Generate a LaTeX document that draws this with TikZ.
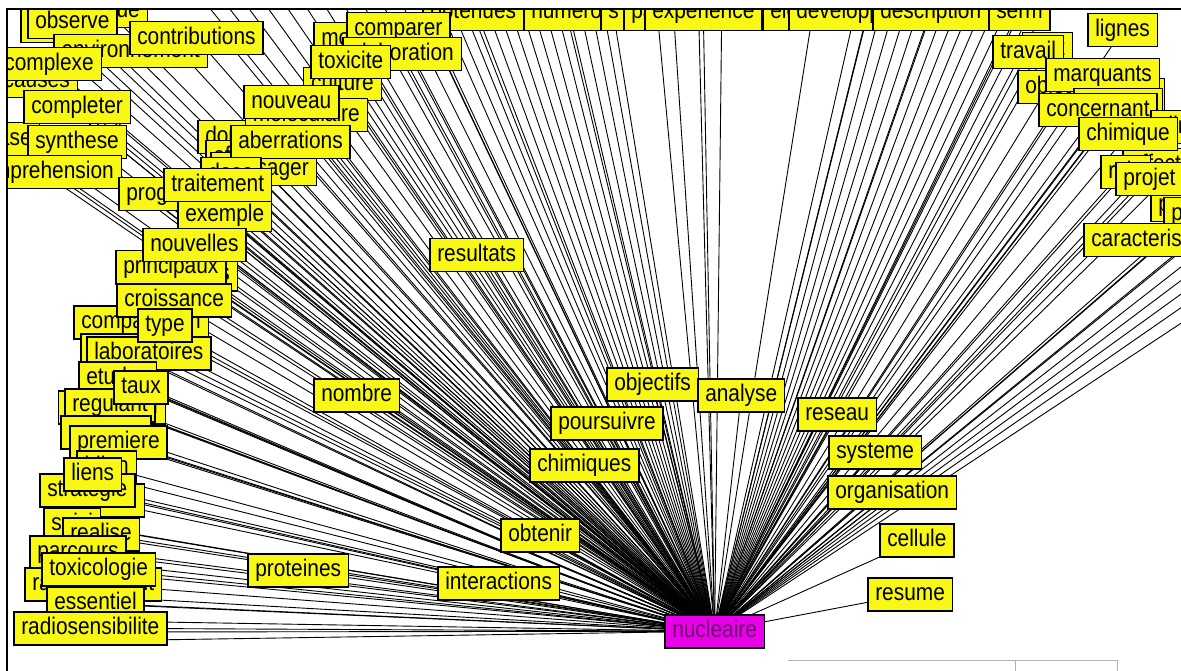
\documentclass[tikz,border=0pt]{standalone}
\usepackage{fontspec}
\setmainfont{Liberation Sans}
\newfontfamily\wordfont[FakeStretch=0.87]{Liberation Sans}
\usetikzlibrary{backgrounds}
\definecolor{boxyellow}{RGB}{248,248,20}
\definecolor{nucmag}{RGB}{232,0,232}
\definecolor{nuctext}{RGB}{112,0,112}
\tikzset{
  word/.style={draw=black, line width=1.5pt, fill=boxyellow, text=black,
    font=\wordfont\fontsize{24}{28}\selectfont, minimum height=33pt,
    inner xsep=7.5pt, inner ysep=0pt, text height=17pt, text depth=5pt},
  nw/.style={word, anchor=north west},
  ne/.style={word, anchor=north east},
  topword/.style={word, anchor=north west, text depth=9pt},
  conn/.style={draw=black, line width=0.9pt},
}
\begin{document}
\begin{tikzpicture}[x=1pt, y=-1pt]
\useasboundingbox (0,0) rectangle (1181,671);
\begin{scope}
\clip (8,10) rectangle (1181,671);
% row of words along the top edge
\node[topword] (w-obtenues) at (422,-3) {obtenues};
\node[topword] (w-numero) at (523,-3) {numero};
\node[topword] (w-s) at (600,-3) {s};
\node[topword] (w-partie) at (623,-3) {partie};
\node[topword] (w-experience) at (644,-3) {experience};
\node[topword] (w-elements) at (762,-3) {elements};
\node[topword] (w-developpement) at (788,-3) {developpement};
\node[topword] (w-description) at (872,-3) {description};
\node[topword] (w-serm) at (988,-3) {serm};
% right column
\node[ne] (w-trait) at (1073,32) {trait};
\node[nw] (w-travail) at (992,35) {travail};
\node[nw] (w-objet) at (1017,70) {objet};
\node[ne] (w-modeles) at (1165,78) {modeles};
\node[nw] (w-marquants) at (1045,58) {marquants};
\node[ne] (w-concept) at (1163,88) {concept};
\node[nw] (w-concernant) at (1038,93) {concernant};
\node[nw] (w-clinique) at (1150,110) {clinique};
\node[nw] (w-effectuees) at (1122,148) {effectuees};
\node[nw] (w-chimique) at (1078,117) {chimique};
\node[nw] (w-role) at (1100,155) {role};
\node[nw] (w-proprietes) at (1150,188) {proprietes};
\node[nw] (w-parametres) at (1163,197) {parametres};
\node[nw] (w-projet) at (1115,162) {projet};
\node[nw] (w-caracterisation) at (1083,223) {caracterisation};
\node[nw] (w-lignes) at (1087,13) {lignes};
% upper left cluster
\node[nw] (w-sens) at (20,9) {sens};
\node[ne] (w-unique) at (148,-6) {unique};
\node[nw] (w-observe) at (27,5) {observe};
\node[ne] (w-environnement) at (208,34) {environnement};
\node[nw] (w-contributions) at (129,21) {contributions};
\node[ne] (w-causes) at (78,64) {causes};
\node[ne] (w-complexe) at (102,47) {complexe};
\node[ne] (w-base) at (40,122) {base};
\node[nw] (w-completer) at (23,90) {completer};
\node[nw] (w-synthese) at (27,125) {synthese};
\node[ne] (w-comprehension) at (122,155) {comprehension};
\node[nw] (w-donnees) at (197,120) {donnees};
\node[nw] (w-modele) at (313,22) {modele};
\node[nw] (w-comparer) at (346,12) {comparer};
\node[ne] (w-elaboration) at (462,37) {elaboration};
\node[ne] (w-culture) at (382,67) {culture};
\node[nw] (w-toxicite) at (310,45) {toxicite};
\node[ne] (w-moleculaire) at (368,98) {moleculaire};
\node[nw] (w-nouveau) at (243,85) {nouveau};
\node[nw] (w-effets) at (205,140) {effets};
\node[nw] (w-envisager) at (210,152) {envisager};
\node[nw] (w-aberrations) at (230,125) {aberrations};
\node[nw] (w-dose) at (200,157) {dose};
\node[nw] (w-progres) at (118,177) {progres};
\node[nw] (w-exemple) at (177,198) {exemple};
\node[nw] (w-traitement) at (163,168) {traitement};
% left column
\node[ne] (w-methodes) at (238,257) {methodes};
\node[nw] (w-principaux) at (115,250) {principaux};
\node[nw] (w-nouvelles) at (142,228) {nouvelles};
\node[nw] (w-comparaison) at (73,305) {comparaison};
\node[nw] (w-croissance) at (116,283) {croissance};
\node[nw] (w-langage) at (80,333) {langage};
\node[nw] (w-laboratoires) at (86,336) {laboratoires};
\node[nw] (w-type) at (137,308) {type};
\node[nw] (w-etudes) at (78,361) {etudes};
\node[ne] (w-regulation) at (166,390) {regulation};
\node[nw] (w-regulant) at (64,388) {regulant};
\node[nw] (w-taux) at (113,370) {taux};
\node[nw] (w-reponse) at (60,415) {reponse};
\node[nw] (w-premiere) at (69,425) {premiere};
\node[ne] (w-bilan) at (137,450) {bilan};
\node[ne] (w-methode) at (145,483) {methode};
\node[nw] (w-strategie) at (39,473) {strategie};
\node[nw] (w-liens) at (63,457) {liens};
\node[nw] (w-suivi) at (43,507) {suivi};
\node[nw] (w-realise) at (62,517) {realise};
\node[nw] (w-parcours) at (29,535) {parcours};
\node[nw] (w-rayonnement) at (24,567) {rayonnement};
\node[nw] (w-toxicologie) at (41,552) {toxicologie};
\node[nw] (w-essentiel) at (46,586) {essentiel};
\node[nw] (w-radiosensibilite) at (13,611) {radiosensibilite};
% words spread around the hub
\node[nw] (w-resultats) at (429,238) {resultats};
\node[nw] (w-nombre) at (313,378) {nombre};
\node[nw] (w-objectifs) at (606,367) {objectifs};
\node[nw] (w-analyse) at (697,378) {analyse};
\node[nw] (w-poursuivre) at (550,406) {poursuivre};
\node[nw] (w-chimiques) at (529,448) {chimiques};
\node[nw] (w-reseau) at (797,397) {reseau};
\node[nw] (w-systeme) at (828,435) {systeme};
\node[nw] (w-organisation) at (827,475) {organisation};
\node[nw] (w-cellule) at (879,523) {cellule};
\node[nw] (w-resume) at (867,577) {resume};
\node[nw] (w-obtenir) at (500,518) {obtenir};
\node[nw] (w-proteines) at (247,553) {proteines};
\node[nw] (w-interactions) at (437,566) {interactions};
% hub
\node[word, anchor=north west, fill=nucmag, text=nuctext] (nuc) at (664,614) {nucleaire};
\end{scope}

% connectors, kept beneath all the boxes
\begin{scope}[on background layer]
\clip (8,10) rectangle (1181,671);
\foreach \n in {obtenues,numero,s,partie,experience,elements,developpement,
  description,serm,trait,travail,objet,modeles,marquants,concept,concernant,
  clinique,effectuees,chimique,role,proprietes,parametres,projet,
  caracterisation,lignes,sens,unique,observe,environnement,contributions,
  causes,complexe,base,completer,synthese,comprehension,donnees,modele,
  comparer,elaboration,culture,toxicite,moleculaire,nouveau,effets,
  envisager,aberrations,dose,progres,exemple,traitement,methodes,principaux,
  nouvelles,comparaison,croissance,langage,laboratoires,type,etudes,
  regulation,regulant,taux,reponse,premiere,bilan,methode,strategie,liens,
  suivi,realise,parcours,rayonnement,toxicologie,essentiel,radiosensibilite,
  resultats,nombre,objectifs,analyse,poursuivre,chimiques,reseau,systeme,
  organisation,cellule,resume,obtenir,proteines,interactions}
  \draw[conn] (w-\n.center) -- (nuc.center);
% words lying beyond the top edge
\foreach \x [count=\i] in {195,215,235,255,275,295,315,335,355,375,395,415,
  432,444,456,468,480,492,504,516,528,540,552,564,576,588,600,672,698,722,
  860,873,886,899,912,925,938,951,964,977,990,1003,1016,1029,1042,1055}
  {\coordinate (top\i) at (\x,-10); \draw[conn] (top\i) -- (nuc.center);}
% words hidden under the stacked boxes
\foreach \x/\y [count=\i] in {50/15,90/28,160/30,230/45,40/60,80/70,60/100,
  90/112,60/135,95/148,40/165,80/178,140/190,200/178,230/190,200/210,
  240/222,170/238,215/250,140/262,190/272,140/292,200/305,100/315,160/328,
  110/345,170/358,100/372,140/385,90/398,130/410,90/435,140/448,60/480,
  100/495,80/525,120/540,50/545,70/560,120/575,70/595,120/605,40/620,
  100/632,150/640,260/95,310/108,260/135,320/148,350/105,330/55,370/68,
  380/20,430/30,440/50,1000/45,1040/50,1080/70,1130/80,1060/105,
  1120/110,1100/130,1150/140,1140/175,1120/235,1160/245}
  {\coordinate (hid\i) at (\x,\y); \draw[conn] (hid\i) -- (nuc.center);}
% words lying beyond the right edge
\foreach \y [count=\i] in {240,256,270,284,298,314}
  {\coordinate (rgt\i) at (1195,\y); \draw[conn] (rgt\i) -- (nuc.center);}
\end{scope}

% window frame and status bar
\draw[line width=2pt] (1181,9) -- (7,9) -- (7,671);
\draw[black!30, line width=1pt] (788,660) -- (1117,660);
\draw[black!30, line width=1pt] (1015,660) -- (1015,671);
\draw[black!30, line width=1pt] (1117,660) -- (1117,671);
\end{tikzpicture}
\end{document}
